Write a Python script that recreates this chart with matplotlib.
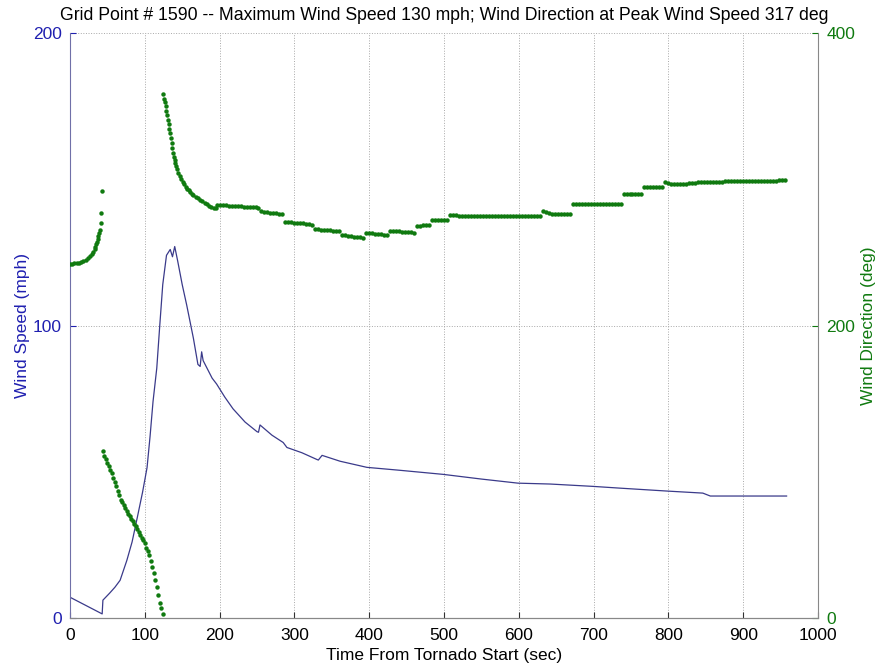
import numpy as np
from matplotlib import pyplot as plt

# wind speed (mph) vs time (sec)
spd_t = [0, 43, 44, 53, 60, 67, 76, 83, 90, 97,
         103, 107, 111, 116, 120, 124, 129, 134, 137, 140,
         144, 150, 156, 165, 171, 174, 176, 178, 183, 190,
         196, 207, 218, 234, 250, 252, 254, 270, 285, 290,
         310, 330, 332, 337, 361, 397, 441, 499, 550, 599,
         642, 699, 735, 798, 846, 856, 958]
spd_v = [7.1, 1.4, 6.1, 8.5, 10.5, 12.9, 19.7, 26, 34.4, 43,
         51.4, 62, 74, 85.4, 100, 114, 124, 126, 123.5, 127,
         122, 114, 107, 95.6, 86.7, 86, 91, 88, 85.5, 82,
         80, 75.5, 71.5, 67, 63.7, 63.5, 66, 62.5, 60, 58.3,
         56.5, 54.2, 54, 55.6, 53.6, 51.5, 50.5, 49.1, 47.5, 46.1,
         45.8, 45, 44.4, 43.4, 42.7, 41.7, 41.7]

# wind direction (deg), three pieces
dirA_t = [0, 3, 6, 9, 12, 15, 18, 21, 24, 27, 29, 31, 33, 34, 35, 36, 37, 38, 39, 40, 41, 42, 43]
dirA_v = [242, 242, 242.5, 243, 243, 243.5, 244, 245, 246, 247.5, 249, 250.5, 252.5, 254, 255.5,
          257, 259, 261, 263, 265, 270, 277, 292]

dirB_t = list(range(44, 125, 2))
dirB_v = [114, 111, 108.5, 106, 104, 101.5, 99, 96, 93, 90,
          87, 84, 81, 79, 77, 75, 73, 71, 69.5, 68,
          66, 64.5, 63, 61, 59, 57, 55, 53, 51, 48,
          45.5, 43, 39, 35, 30.5, 26, 21, 15.5, 10, 6.5,
          3]

dirC_t = [125, 126, 127, 128, 129, 130, 131, 132, 133, 134, 135, 136, 137, 138, 139, 140, 141, 142, 143,
          145, 147, 149, 151, 153, 155, 157, 159, 161, 163, 165,
          168, 171, 174, 177, 180, 183, 186, 189, 192, 195] + list(range(196, 957, 4))
dirC_v = [358, 355, 352.5, 350, 347, 344, 340.5, 337.5, 334.5, 331.5, 328, 325, 321.5, 318, 315.5, 313, 311, 309, 307,
          304.5, 302, 300, 298, 296.5, 295, 293.5, 292.5, 291, 290, 289,
          288, 287, 286, 285, 284, 283, 282, 281, 280.5, 280,
          282.5, 282.5, 282.3, 282.2, 282, 282, 281.8, 281.6, 281.5, 281.3, 281.2, 281, 281, 280.8, 280.6,
          278, 277.8, 277.5, 277.2, 277, 276.7, 276.4, 276,
          271, 270.8, 270.6, 270.4, 270.2, 270, 269.8, 269.6, 269.3, 269,
          266, 265.8, 265.6, 265.4, 265.2, 265, 264.9, 264.7, 264.6,
          262, 261.6, 261.3, 261, 260.7, 260.4, 260.2, 260,
          263.5, 263.3, 263.1, 262.9, 262.7, 262.5, 262.2, 262,
          264.6, 264.5, 264.4, 264.3, 264.1, 264, 263.8, 263.6, 263.5,
          268, 268.3, 268.6, 268.8, 269,
          272, 272, 272, 272, 272, 272,
          275.5, 275.4, 275.3, 275.2, 275.1, 275, 275, 275, 275, 275, 275, 275, 275, 275, 275, 275,
          275, 275, 275, 275, 275, 275, 275, 275, 275, 275, 275, 275, 275, 275, 275,
          278, 277.5, 277,
          276.5, 276.3, 276.2, 276, 276, 276, 276,
          283, 283, 283, 283, 283, 283, 283, 283, 283, 283, 283, 283, 283, 283, 283, 283, 283,
          290, 290, 290, 290, 290, 290, 290,
          294.5, 294.5, 294.7, 294.8, 295, 295, 295,
          298, 297.5,
          297, 297, 297, 297, 297, 297, 297.2, 297.4, 297.6, 297.8, 298, 298, 298, 298, 298.1, 298.2,
          298.3, 298.4, 298.5, 298.5, 298.6, 298.6, 298.6, 298.6, 298.7, 298.8, 298.8, 298.9, 298.9, 298.9,
          299, 299, 299, 299, 299, 299, 299.2, 299.4, 299.6]

title_txt = 'Grid Point # 1590 -- Maximum Wind Speed 130 mph; Wind Direction at Peak Wind Speed 317 deg'

plt.rcParams['font.family'] = ['Liberation Sans', 'DejaVu Sans']
plt.rcParams['font.size'] = 12.5

blue = '#2020b0'
green = '#107a10'

fig = plt.figure(figsize=(8.79, 6.68), dpi=100)
ax1 = fig.add_axes([70/879, 50/668, 748/879, 585/668])
ax2 = ax1.twinx()

ax1.plot(spd_t, spd_v, color='#3a3a8a', lw=0.9)
for t, v in [(dirA_t, dirA_v), (dirB_t, dirB_v), (dirC_t, dirC_v)]:
    ax2.plot(t, v, ls='none', marker='o', ms=3.2, mew=0, color=green)

ax1.set_xlim(0, 1000)
ax1.set_ylim(0, 200)
ax2.set_ylim(0, 400)
ax1.set_xticks(np.arange(0, 1001, 100))
ax1.set_yticks([0, 100, 200])
ax2.set_yticks([0, 200, 400])

ax1.grid(True, ls=':', color='#a8a8a8', lw=0.7)
ax1.set_axisbelow(True)

ax1.tick_params(axis='y', colors=blue, direction='in', length=4, pad=6)
ax1.tick_params(axis='x', direction='in', length=4, colors='#333333', pad=7)
ax2.tick_params(axis='y', colors=green, direction='in', length=4, pad=6)
for lab in ax1.get_xticklabels():
    lab.set_color('black')

for a in (ax1, ax2):
    a.spines['top'].set_visible(False)
    a.spines['bottom'].set_color('#888888')
ax1.spines['left'].set_color('#7070a8')
ax2.spines['left'].set_visible(False)
ax1.spines['right'].set_visible(False)
ax2.spines['right'].set_color('#888888')

ax1.set_ylabel('Wind Speed (mph)', color=blue, labelpad=2)
ax2.set_ylabel('Wind Direction (deg)', color=green, rotation=90, labelpad=4)
ax1.set_xlabel('Time From Tornado Start (sec)', labelpad=4)
ax1.set_title(title_txt, fontsize=12.7, pad=9)

fig.savefig('out.png', dpi=100)
